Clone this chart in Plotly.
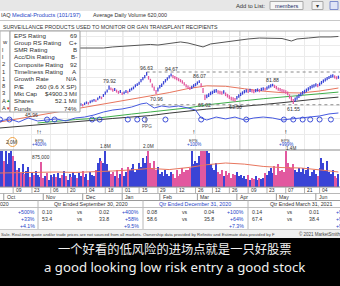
import plotly.graph_objects as go
import math

W, H = 340, 286
def X(p): return p / W
def Y(p): return 1 - p / H

FONT = "Liberation Sans, Arial, sans-serif"
BLUE = "#3a44d6"
PINK = "#e2589f"
TXTBLUE = "#2746c8"
DARK = "#333333"

# ---------------- data ----------------
price_start = 36
lo = [57.4, 58.0, 57.1, 58.4, 59.0, 58.2, 59.3, 60.0, 59.5, 60.7,
      61.6, 61.0, 62.3, 63.1, 63.8, 63.2, 65.0, 66.5, 65.8, 68.0,
      70.2, 72.5, 75.3, 74.6, 73.2, 74.0, 72.3, 71.0, 71.9, 69.8,
      70.6, 72.0, 71.4, 73.0, 74.5, 75.7, 77.8, 79.2, 80.8, 83.7,
      86.1, 88.4, 91.8, 86.8, 83.3, 77.8, 74.2, 70.96, 73.4, 76.7,
      78.3, 81.0, 83.4, 85.8, 88.2, 90.8, 88.4, 87.2, 86.0, 84.8,
      83.6, 82.0, 79.9, 77.6, 76.2, 75.0, 76.1, 77.8, 79.0, 80.8,
      82.8, 77.9, 71.8, 65.02, 66.8, 68.0, 69.7, 70.6, 71.8, 72.4,
      71.2, 70.7, 70.0, 71.1, 68.8, 67.4, 66.1, 64.7, 64.3, 63.50,
      65.6, 67.3, 68.8, 70.2, 71.5, 72.4, 71.8, 72.8, 72.3, 71.5,
      72.7, 73.3, 72.6, 73.9, 74.5, 74.1, 75.2, 76.5, 77.7, 78.9,
      77.1, 75.7, 74.2, 73.4, 72.5, 72.0, 71.1, 69.6, 66.4, 64.2,
      61.55, 63.6, 65.3, 67.1, 68.6, 70.1, 71.4, 72.7, 74.1, 75.5,
      76.9, 77.6, 78.7, 77.9, 79.4, 81.2, 83.0, 84.5, 86.0, 87.4,
      88.8, 89.5, 88.2, 87.0, 87.8]
hi = [59.6, 60.2, 59.1, 60.5, 61.2, 60.3, 61.4, 62.1, 61.6, 62.9,
      63.8, 63.2, 64.6, 65.4, 66.1, 65.5, 67.5, 69.0, 68.3, 70.9,
      73.3, 75.6, 79.92, 77.8, 76.5, 77.0, 75.4, 74.1, 74.9, 72.6,
      73.4, 75.0, 74.2, 76.2, 77.5, 78.8, 81.2, 82.4, 84.3, 87.5,
      89.9, 92.6, 96.63, 91.3, 87.8, 82.3, 78.8, 75.1, 77.6, 80.5,
      82.1, 85.0, 87.4, 89.8, 92.4, 94.67, 92.6, 91.2, 90.0, 88.6,
      87.4, 86.0, 83.7, 81.4, 79.8, 78.6, 79.7, 81.4, 82.6, 84.6,
      86.07, 82.5, 77.2, 70.0, 70.4, 71.6, 73.3, 74.2, 75.4, 76.0,
      74.8, 74.3, 73.6, 74.7, 72.4, 71.0, 69.7, 68.1, 67.7, 66.9,
      69.0, 70.7, 72.2, 73.6, 74.9, 75.8, 75.2, 76.2, 75.7, 74.9,
      76.1, 76.7, 76.0, 77.3, 77.9, 77.5, 78.8, 80.1, 81.3, 81.88,
      80.7, 79.3, 77.8, 77.0, 76.1, 75.6, 74.7, 73.4, 70.6, 68.6,
      66.0, 67.4, 69.1, 70.9, 72.4, 73.9, 75.2, 76.5, 77.9, 79.3,
      80.7, 81.4, 82.5, 81.7, 83.2, 85.2, 87.0, 88.5, 90.0, 91.4,
      92.8, 93.5, 92.2, 91.0, 91.8]
early_dir = "uuduuuudud" + "ududuududu" + "uudduduudu" + "duududu"

vol_k = [1300, 1500, 900, 1400, 800, 1200, 2000, 1100, 900, 600,
         650, 500, 800, 450, 550, 700, 350, 500, 420, 560,
         420, 350, 875, 320, 380, 500, 260, 420, 350, 450,
         350, 500, 320, 420, 560, 380, 260, 450, 350, 520,
         420, 320, 500, 380, 560, 350, 450, 260, 520, 420,
         400, 600, 850, 1000, 900, 850, 1800, 800, 550, 450,
         520, 400, 600, 330, 450, 650, 400, 520, 700, 600,
         650, 800, 520, 600, 850, 700, 1000, 850, 1100, 2000,
         850, 650, 900, 600, 700, 450, 520, 400, 600, 450,
         400, 520, 450, 330, 600, 400, 450, 650, 520, 600,
         600, 650, 1300, 800, 900, 850, 1100, 1300, 1250, 1400,
         1350, 1200, 800, 650, 600, 850, 520, 450, 600, 400,
         560, 420, 500, 330, 450, 420, 520, 380, 420, 330,
         380, 290, 420, 260, 330, 290, 380, 260, 330, 290,
         330, 500, 420, 560, 650, 500, 750, 420, 800, 560,
         600, 520, 1400, 850, 700, 650, 800, 600, 520, 650,
         520, 650, 450, 600, 700, 400, 520, 600, 450, 400,
         650, 1000, 850, 600, 900, 520, 450, 600, 400, 330, 450]

ma_idx = [0, 10, 20, 30, 40, 50, 60, 70, 80, 90, 100, 110, 120, 130, 140, 150, 160, 170, 180]
ma50 = [47.8, 50.0, 52.2, 54.7, 57.6, 60.3, 62.6, 65.6, 69.0, 72.3, 76.5, 79.5, 79.0, 76.3, 73.8, 72.2, 71.9, 73.9, 77.1]
ma200 = [43.9, 44.8, 45.8, 46.8, 47.9, 49.0, 50.2, 51.3, 52.3, 54.1, 55.7, 57.3, 58.3, 59.4, 61.1, 62.7, 64.6, 66.3, 67.8]
vol_avg = [490, 510, 525, 525, 510, 525, 560, 600, 650, 610, 680, 780, 840, 800, 720, 680, 665, 600, 525]
ma_g_idx = [20, 30, 40, 50, 60, 70, 80, 90, 100, 110, 120, 130, 140, 150, 160, 170, 180]
ma_green = [47.1, 48.4, 49.4, 50.2, 52.0, 53.4, 55.0, 56.5, 58.3, 60.8, 62.9, 64.5, 66.3, 68.0, 69.7, 71.3, 72.8]

ind_idx = [0, 5, 10, 15, 20, 25, 30, 35, 40, 45, 50, 55, 60, 65, 70, 75, 78, 82, 86, 90, 95,
           100, 104, 107, 110, 115, 120, 125, 130, 135, 140, 145, 150, 155, 160, 165, 170, 175, 180]
ind_val = [24.4, 26.1, 23.5, 26.9, 24.4, 25.2, 26.1, 24.4, 26.9, 27.7, 29.4, 31.9, 33.6, 34.5, 36.1,
           38.7, 39.5, 35.3, 37.0, 36.1, 37.0, 35.3, 33.6, 26.9, 25.2, 27.7, 26.1, 27.7, 25.2, 26.9,
           27.7, 26.9, 25.2, 26.1, 26.9, 27.7, 28.6, 30.3, 31.1]
circle_idx = [0, 5, 25, 29, 49, 53, 68, 73, 77, 88, 107, 131, 151, 156, 161, 165, 170, 176]
circle_val = 25.6

rs_idx = [40, 45, 50, 55, 60, 65, 70, 75, 80, 84, 88, 92, 96, 100, 104, 108, 112, 116, 120,
          126, 132, 138, 144, 150, 155, 158, 164, 170, 176, 180]
rs_val = [85.7, 85.7, 86.1, 85.7, 86.6, 87.0, 87.4, 87.8, 88.7, 88.2, 89.1, 89.9, 90.8, 89.9,
          88.2, 86.6, 89.1, 89.9, 90.8, 92.4, 93.3, 94.1, 94.1, 93.7, 91.6, 93.3, 94.1, 95.0, 95.0, 95.4]

peak_marks = [(58, "hi"), (78, "hi"), (83, "lo"), (91, "hi"), (106, "hi"),
              (109, "lo"), (125, "lo"), (145, "hi"), (156, "lo")]

eps_idx = [21, 103, 152]
eps_txt = ["+400%", "+100%", "+999%"]
vol_marks = [(6, "2.0M"), (22, "875,000"), (56, "1.8M"), (79, "2.0M"), (155, "1.4M")]

week_idx = [-1, 7, 17, 27, 36, 46, 56, 65, 74, 84, 94, 104, 113, 122, 132, 142, 152, 162, 170]
week_lbl = ["25", "09", "23", "06", "20", "04", "18", "01", "15", "29",
            "12", "26", "12", "26", "09", "23", "07", "21", "04"]
month_idx = [2, 23, 44, 65, 85, 105, 126, 147, 168]
month_lbl = ["Oct", "Nov", "Dec", "Jan", "Feb", "Mar", "Apr", "May", "Jun"]

ratings_lbl = ["EPS Rating", "Group RS Rating", "SMR Rating", "Acc/Dis Rating", "Composite Rating",
               "Timeliness Rating", "Growth Rate", "P/E", "Mkt Cap", "Shares", "Funds"]
ratings_val = ["69", "C+", "B", "B-", "92", "A", "N/A", "260 (9.6 X SP)", "$4900.3 Mil", "52.1 Mil", "74%"]

qtr_hdr = ["Qtr Ended September 30, 2020", "Qtr Ended December 31, 2020", "Qtr Ended March 31, 2021"]
qtr_eps = [("0.10", "0.02", "+400%"), ("0.08", "0.04", "+100%"), ("0.14", "0.01", "+999%")]
qtr_sales = [("53.4", "33.8", "+58%"), ("58.6", "35.8", "+64%"), ("67.4", "38.4", "+9")]
qtr_margin = ["+9.5%", "+7.3%", "+9"]
prev_col = ["+500%", "+33%", "+4.1%"]

zh_sub = "一个好看的低风险的进场点就是一只好股票"
en_sub = "a good looking low risk entry a good stock"

# ---------------- figure ----------------
fig = go.Figure()

mids = [(a + b) / 2 for a, b in zip(hi, lo)]
updays = {}
for i in range(len(early_dir)):
    updays[i] = early_dir[i] == "u"
segs = {True: ([], []), False: ([], [])}
for i, (h, l) in enumerate(zip(hi, lo)):
    idx = price_start + i
    up = updays.get(idx, True) if i == 0 else mids[i] >= mids[i - 1]
    updays[idx] = up
    xs, ys = segs[up]
    xs += [idx, idx, None]
    ys += [l, h, None]

fig.add_trace(go.Scatter(x=ma_idx, y=ma200, mode="lines", line=dict(color="#3a3a3a", width=1), yaxis="y", hoverinfo="skip"))
fig.add_trace(go.Scatter(x=ma_g_idx, y=ma_green, mode="lines", line=dict(color="#3fae4a", width=1), yaxis="y", hoverinfo="skip"))
fig.add_trace(go.Scatter(x=ma_idx, y=ma50, mode="lines", line=dict(color="#e8765e", width=1), yaxis="y", hoverinfo="skip"))

for up, col in ((True, BLUE), (False, PINK)):
    xs, ys = segs[up]
    fig.add_trace(go.Scatter(x=xs, y=ys, mode="lines", line=dict(color=col, width=1.3),
                             yaxis="y", hoverinfo="skip", connectgaps=False))

fig.add_trace(go.Scatter(x=ind_idx, y=ind_val, mode="lines", line=dict(color="#4659e0", width=1), yaxis="y3", hoverinfo="skip"))
fig.add_trace(go.Scatter(x=circle_idx, y=[circle_val] * len(circle_idx), mode="markers",
                         marker=dict(symbol="circle-open", size=5, color="#3f50d8", line=dict(width=1)),
                         yaxis="y3", hoverinfo="skip"))
fig.add_trace(go.Scatter(x=rs_idx, y=rs_val, mode="lines", line=dict(color="#555555", width=1), yaxis="y3", hoverinfo="skip"))

vcols = [BLUE if updays.get(i, True) else PINK for i in range(len(vol_k))]
fig.add_trace(go.Bar(x=list(range(len(vol_k))), y=vol_k, marker=dict(color=vcols, line=dict(width=0)),
                     width=0.6, yaxis="y2", hoverinfo="skip"))
fig.add_trace(go.Scatter(x=ma_idx, y=vol_avg, mode="lines", line=dict(color="#e8765e", width=1), yaxis="y2", hoverinfo="skip"))

XR = [0, 340 / 1.88]
ylog_top = math.log10(96.63) + (72 - 31) / 70.95 / math.log(10)
ylog_bot = math.log10(96.63) - (150 - 72) / 70.95 / math.log(10)

fig.update_layout(
    width=W, height=H, margin=dict(l=0, r=0, t=0, b=0),
    paper_bgcolor="white", plot_bgcolor="white", showlegend=False, bargap=0,
    xaxis=dict(domain=[0, 1], range=XR, showticklabels=False, ticks="", zeroline=False,
               tickvals=week_idx, showgrid=True, gridcolor="#ebebeb", gridwidth=1, anchor="y"),
    yaxis=dict(domain=[Y(150), Y(31)], type="log", range=[ylog_bot, ylog_top], showticklabels=False,
               tickvals=[40, 50, 60, 70, 80, 90, 100, 120, 140, 160], showgrid=True, gridcolor="#ebebeb",
               zeroline=False, anchor="x"),
    yaxis3=dict(domain=[Y(150), Y(31)], range=[0, 100], overlaying="y", showticklabels=False,
                showgrid=False, zeroline=False, anchor="x"),
    yaxis2=dict(domain=[Y(187), Y(151)], range=[0, 1260], showticklabels=False, showgrid=False,
                zeroline=False, anchor="x"),
)

shapes = []
anns = []

def rect(x0, y0, x1, y1, fill, line=None, lw=1):
    shapes.append(dict(type="rect", xref="paper", yref="paper", x0=X(x0), x1=X(x1), y0=Y(y1), y1=Y(y0),
                       fillcolor=fill, line=dict(color=line or fill, width=lw if line else 0), layer="above"))

def hline(y, x0=0, x1=340, color="#999999", w=1):
    shapes.append(dict(type="line", xref="paper", yref="paper", x0=X(x0), x1=X(x1), y0=Y(y), y1=Y(y),
                       line=dict(color=color, width=w), layer="above"))

def vline(x, y0, y1, color="#999999", w=1):
    shapes.append(dict(type="line", xref="paper", yref="paper", x0=X(x), x1=X(x), y0=Y(y0), y1=Y(y1),
                       line=dict(color=color, width=w), layer="above"))

def txt(x, y, t, size=5.5, color=DARK, xa="left", family=FONT, xref="paper", **kw):
    anns.append(dict(x=X(x) if xref == "paper" else x, y=Y(y), xref=xref, yref="paper", text=t,
                     showarrow=False, xanchor=xa, yanchor="middle",
                     font=dict(size=size, color=color, family=family), borderpad=0, **kw))

# top header
rect(0, 0, 340, 11, "#e7e7e7")
txt(266, 5.5, "Add to List:", 5.8, DARK, "right")
rect(270, 1.5, 303, 9.5, "#f6f6f6", "#a8a8a8")
txt(286.5, 5.5, "members", 5.6, "#1c2a66", "center")
rect(312, 1.5, 323, 9.5, "#f2f2f2", "#a8a8a8")
txt(317.5, 5.5, "▾", 6, "#333", "center")
rect(330, 1.5, 338, 9.5, "#dfe4f6", "#7d8ccc")
txt(0, 15.5, "IAQ", 5.6, DARK, "left")
txt(11, 15.5, "Medical-Products (101/197)", 5.6, TXTBLUE, "left")
txt(92, 15.5, "Average Daily Volume 620,000", 5.4, DARK, "left")
hline(20.5, color="#c8c8c8")
txt(2, 27, "SURVEILLANCE PRODUCTS USED TO MONITOR OR GAN TRANSPLANT RECIPIENTS", 5.3, DARK, "left")

# chart frame lines
hline(31, color="#b0b0b0")
hline(150, color="#8a8a8a")
hline(187, color="#8a8a8a")
for xi in (65.3, 127.6):
    shapes.append(dict(type="line", xref="x", yref="paper", x0=xi, x1=xi, y0=Y(150), y1=Y(31),
                       line=dict(color="#c4c4c4", width=1), layer="below"))
for pv, x0 in ((96.63, 78), (60.9, 80)):
    shapes.append(dict(type="line", xref="x", yref="y", x0=x0, x1=XR[1], y0=pv, y1=pv,
                       line=dict(color="#8a8a8a", width=1, dash="dot"), layer="above"))

# price high/low labels
for idx, kind in peak_marks:
    i = idx - price_start
    v = hi[i] if kind == "hi" else lo[i]
    anns.append(dict(x=idx, y=math.log10(v), xref="x", yref="y", text=f"{v:.2f}", showarrow=False,
                     xanchor="center", yanchor="bottom" if kind == "hi" else "top",
                     yshift=0 if kind == "hi" else -1,
                     font=dict(size=5.2, color=DARK, family=FONT), borderpad=0))
txt(31, 115, "45.96", 5.2, DARK, "center")

vline(146, 117, 123, "#777777")
txt(146.5, 126.5, "PPG", 4.6, "#555", "center")

for k, (ei, et) in enumerate(zip(eps_idx, eps_txt)):
    txt(ei, 132, "!" if k else "!↑", 6, "#111", "center", xref="x")
    txt(ei, 140, "EPS", 4.4, "#444", "center", xref="x")
    txt(ei, 144.8, et, 4.6, TXTBLUE, "center", xref="x")

for vi, vt in vol_marks:
    yy = 158 if vi == 22 else (142 if vi == 6 else (148.3 if vi == 155 else 146.5))
    txt(vi, yy, vt, 4.6 if vi == 155 else 4.8, DARK, "center", xref="x")
shapes.append(dict(type="circle", xref="paper", yref="paper", x0=X(8), x1=X(17), y0=Y(146.5), y1=Y(137.5),
                   line=dict(color="#f0a040", width=1), layer="above"))

# ratings box
rect(0, 31, 10, 112, "white", "#b0b0b0")
rect(10, 31, 80, 112, "white", "#a0a0a0")
for i, (l, v) in enumerate(zip(ratings_lbl, ratings_val)):
    yy = 35 + 7.3 * i
    txt(13, yy, l, 6.2, DARK, "left")
    txt(78, yy, v, 6.2, DARK, "right")
left_col = ["w", "l", "l", "2", "1", "1", "8", "3", "A", "A"]
for i, t in enumerate(left_col):
    txt(0.5, 42.3 + 7.3 * i, t, 5.8, DARK, "left")
txt(7.5, 100.7, "▲", 4.5, "#2a9a3a", "center")
txt(7.5, 108, "▼", 4.5, "#e02020", "center")

# date rows
hline(193.5, color="#b8b8b8")
hline(200.5, color="#9a9a9a")
for wi, wl in zip(week_idx, week_lbl):
    shapes.append(dict(type="line", xref="x", yref="paper", x0=wi, x1=wi, y0=Y(193.5), y1=Y(187),
                       line=dict(color="#b0b0b0", width=1), layer="above"))
    anns.append(dict(x=wi, y=Y(190.3), xref="x", yref="paper", text=wl, showarrow=False, xanchor="left",
                     xshift=1.5, yanchor="middle", font=dict(size=5, color=DARK, family=FONT), borderpad=0))
for mi, ml in zip(month_idx, month_lbl):
    shapes.append(dict(type="line", xref="x", yref="paper", x0=mi, x1=mi, y0=Y(200.5), y1=Y(193.5),
                       line=dict(color="#9a9a9a", width=1), layer="above"))
    anns.append(dict(x=mi, y=Y(197), xref="x", yref="paper", text=ml, showarrow=False, xanchor="left",
                     xshift=2, yanchor="middle", font=dict(size=5.2, color=DARK, family=FONT), borderpad=0))

# quarterly table
col_sep = [38, 143, 248]
hline(207.5, color="#c0c0c0")
for cx in col_sep:
    vline(cx, 200.5, 229, "#b8b8b8")
txt(10, 204, ", 2020", 5.3, DARK, "right")
for k, h in enumerate(qtr_hdr):
    txt(col_sep[k] + 52.5, 204, h, 5.3, TXTBLUE if k == 1 else DARK, "center")
row_y = [211.5, 218.5, 225.5]
for r, t in enumerate(prev_col):
    txt(35.5, row_y[r], t, 5.2, TXTBLUE, "right")
for k in range(3):
    cx = col_sep[k]
    for r, rowd in enumerate((qtr_eps[k], qtr_sales[k])):
        txt(cx + 3, row_y[r], rowd[0], 5.2, DARK, "left")
        txt(cx + 42, row_y[r], "vs", 5.2, DARK, "center")
        txt(cx + 60, row_y[r], rowd[1], 5.2, DARK, "left")
        if k < 2:
            txt(cx + 102, row_y[r], rowd[2], 5.2, TXTBLUE, "right")
        else:
            txt(cx + 87, row_y[r], rowd[2], 5.2, TXTBLUE, "left")
    if k < 2:
        txt(cx + 102, row_y[2], qtr_margin[k], 5.2, TXTBLUE, "right")
    else:
        txt(cx + 87, row_y[2], qtr_margin[k], 5.2, TXTBLUE, "left")

# footer
rect(0, 229.5, 340, 238, "#efefef")
hline(229.5, color="#c8c8c8")
txt(0, 234, "Sale. Real-time quote and/or trade prices are not sourced from all markets. Ownership data provided by Refinitiv and Estimate data provided by F",
    4.25, "#444", "left")
txt(298, 234, "© 2021 MarketSmith", 4.5, "#444", "left")

# subtitles
rect(0, 238, 340, 286, "#000000")
txt(175, 248.5, zh_sub, 12.3, "#f0f0f0", "center", family="Noto Sans CJK SC")
txt(175, 266.5, en_sub, 13.2, "#f0f0f0", "center", family="Noto Sans, Open Sans, sans-serif")

fig.update_layout(shapes=shapes, annotations=anns)
fig.write_html("out.html")
